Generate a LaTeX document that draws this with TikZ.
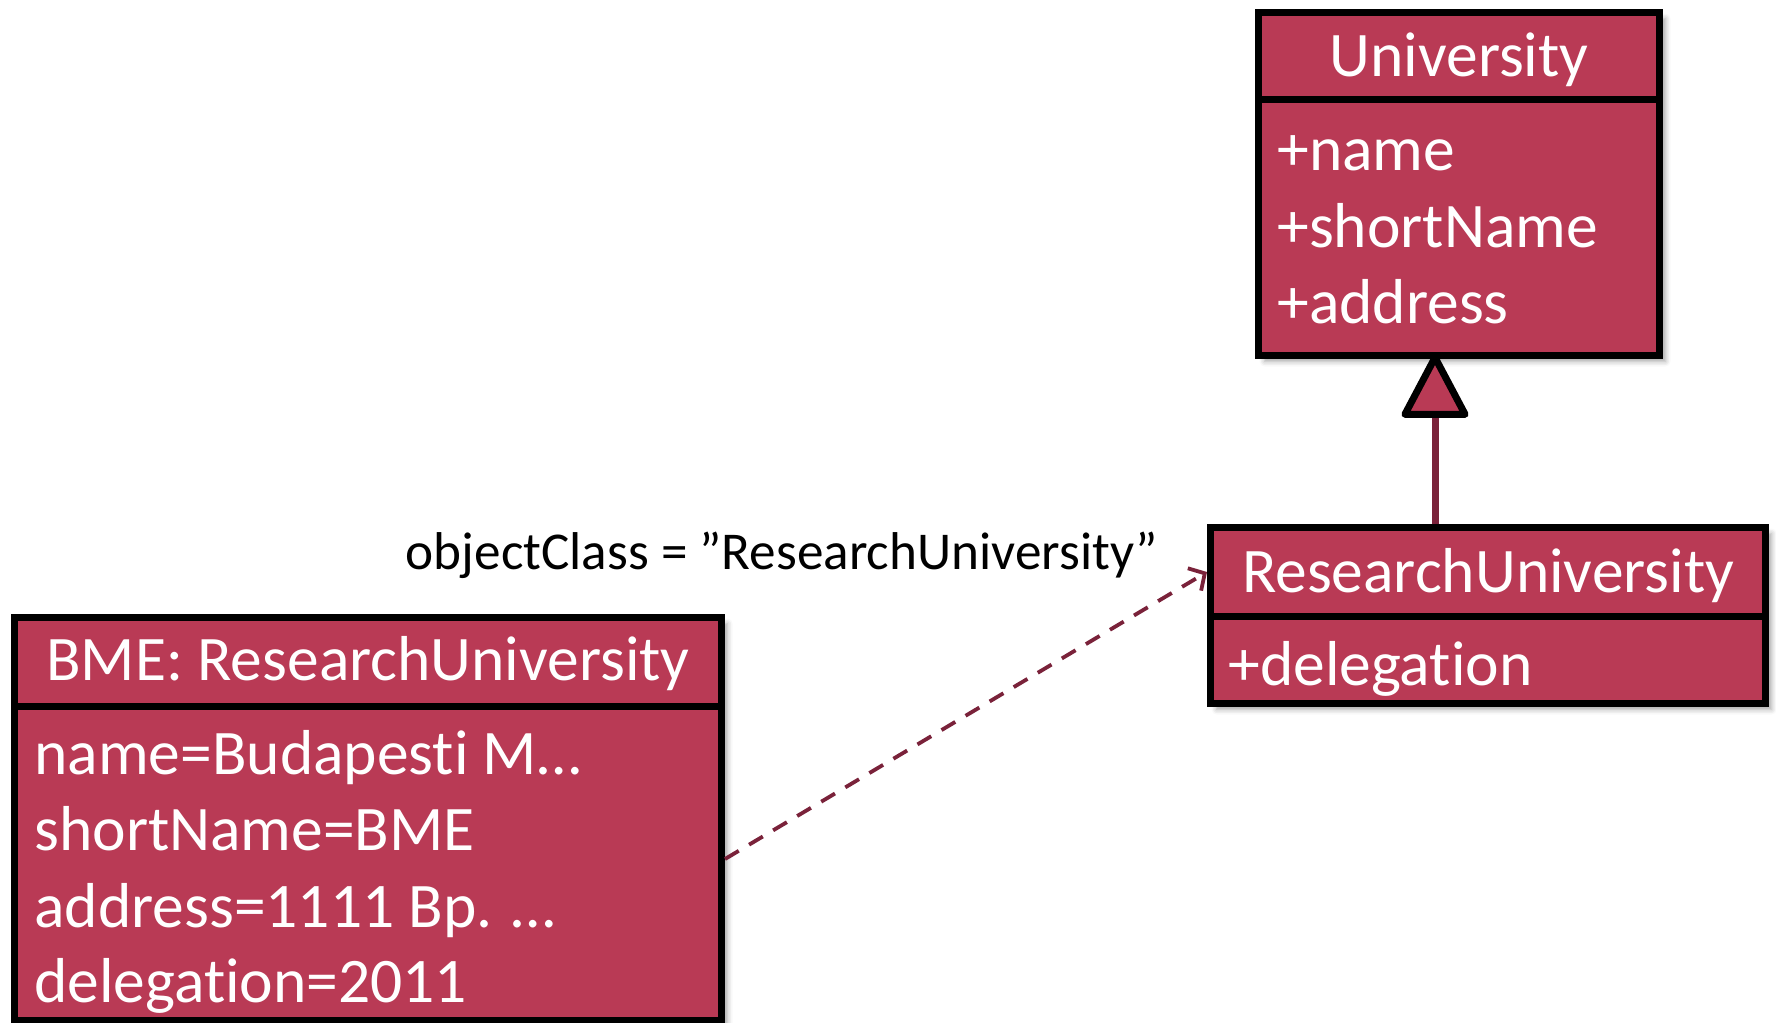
\documentclass[tikz,border=0pt]{standalone}
\usepackage{fontspec}
\setmainfont{Carlito}[Ligatures={NoCommon,NoContextual}, RawFeature={-liga;-clig}]
\usetikzlibrary{arrows.meta,shadows.blur}
\definecolor{boxred}{RGB}{185,58,85}
\definecolor{linkred}{RGB}{122,34,58}
\begin{document}
\begin{tikzpicture}[x=0.5pt,y=-0.5pt,
  box/.style={draw=black, line width=3.5pt, fill=boxred, inner sep=0pt,
    blur shadow={shadow xshift=3pt, shadow yshift=-3pt, shadow blur radius=2.5pt, shadow opacity=35}},
  divider/.style={draw=black, line width=3.5pt},
  boxtitle/.style={text=white, font=\fontsize{31.75}{38}\selectfont, anchor=base, inner sep=0pt},
  attr/.style={text=white, font=\fontsize{31.75}{38}\selectfont, anchor=base west, inner sep=0pt},
  linklabel/.style={text=black, font=\fontsize{26.6}{32}\selectfont, anchor=base, inner sep=0pt},
  genline/.style={draw=linkred, line width=3.5pt, shorten >=-2.5pt,
    -{Triangle[length=34pt, width=35pt, fill=boxred, color=black, line width=3.5pt, round]}},
  dashlink/.style={draw=linkred, line width=1.9pt, dash pattern=on 8pt off 6pt,
    -{Straight Barb[length=6pt, width=13pt, line width=1.9pt]}}
]
\useasboundingbox (0,0) rectangle (1776,1022);

% boxes
\node[box, minimum width=200.5pt, minimum height=171.5pt] (univ) at (1459,184) {};
\node[box, minimum width=277.5pt, minimum height=88pt] (rsu) at (1488,615.5) {};
\node[box, minimum width=353.5pt, minimum height=201.5pt] (bme) at (368,819) {};

% dividers
\draw[divider] (univ.west |- 0,100) -- (univ.east |- 0,100);
\draw[divider] (rsu.west |- 0,616) -- (rsu.east |- 0,616);
\draw[divider] (bme.west |- 0,706) -- (bme.east |- 0,706);

% University
\node[boxtitle] (univT) at (1459,77) {University};
\node[attr] (u1) at (1277,170) {+name};
\node[attr] (u2) at (1277,247) {+shortName};
\node[attr] (u3) at (1277,323) {+address};

% ResearchUniversity
\node[boxtitle] (rsuT) at (1488,592) {ResearchUniversity};
\node[attr] (r1) at (1228,685) {+delegation};

% BME object
\node[boxtitle] (bmeT) at (368,680) {BME: ResearchUniversity};
\node[attr] (b1) at (34,774) {name=Budapesti M…};
\node[attr] (b2) at (34,850) {shortName=BME};
\node[attr] (b3) at (34,927) {address=1111 Bp. …};
\node[attr] (b4) at (34,1002) {delegation=2011};

% connectors
\coordinate (gx) at (1435,0);
\draw[genline] (rsu.north -| gx) -- (univ.south -| gx);

\draw[dashlink] (bme.east |- 0,859) -- (rsu.west |- 0,572);
\node[linklabel] (oc) at (782,569) {objectClass = ”ResearchUniversity”};
\end{tikzpicture}
\end{document}
